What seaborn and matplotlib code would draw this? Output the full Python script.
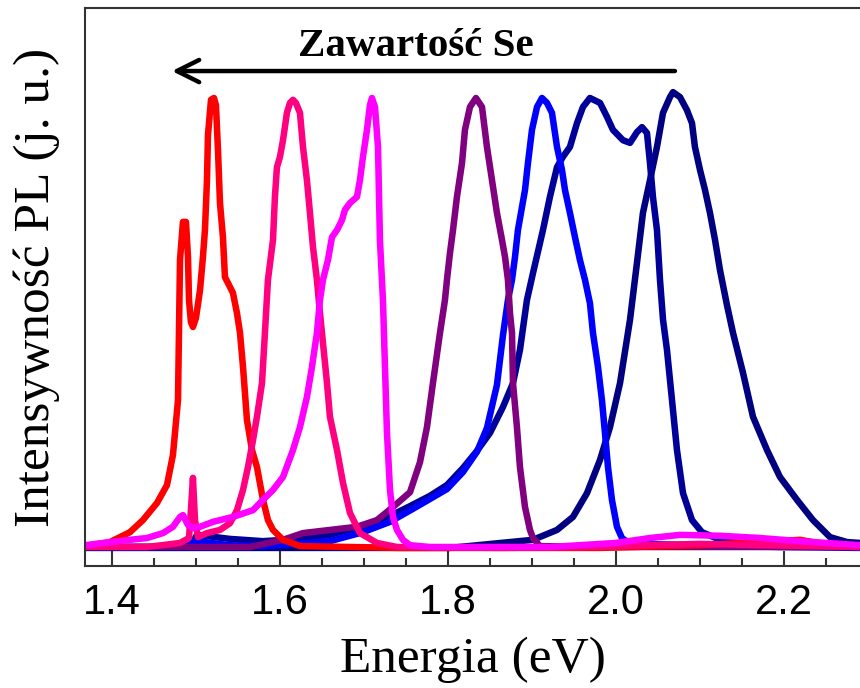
import matplotlib
matplotlib.use("Agg")
import matplotlib.pyplot as plt
from matplotlib.ticker import MultipleLocator, FormatStrFormatter
import numpy as np
import pandas as pd
import seaborn as sns

# PL spectra of the alloy series (energy in eV, normalised intensity)
red_e = [1.3679, 1.3976, 1.4214, 1.4369, 1.4536, 1.4655, 1.4726, 1.4786, 1.4798, 1.4810,
         1.4845, 1.4881, 1.4905, 1.4917, 1.4940, 1.4964, 1.5000, 1.5048, 1.5083, 1.5107,
         1.5131, 1.5143, 1.5179, 1.5214, 1.5238, 1.5262, 1.5286, 1.5321, 1.5345, 1.5405,
         1.5440, 1.5488, 1.5524, 1.5560, 1.5607, 1.5667, 1.5726, 1.5798, 1.5857, 1.5917,
         1.6036, 1.6238, 1.7429, 1.9810, 2.1000, 2.1714, 2.2190, 2.2548, 2.2905]
red_i = [0.002, 0.011, 0.033, 0.060, 0.098, 0.138, 0.205, 0.327, 0.483, 0.639,
         0.724, 0.724, 0.646, 0.550, 0.501, 0.490, 0.510, 0.572, 0.646, 0.706,
         0.817, 0.918, 0.996, 1.000, 0.984, 0.884, 0.766, 0.690, 0.601, 0.579,
         0.566, 0.521, 0.477, 0.401, 0.283, 0.216, 0.178, 0.105, 0.060, 0.038,
         0.016, 0.002, -0.002, -0.002, 0.004, 0.011, 0.016, 0.004, 0.000]

rose_e = [1.3679, 1.4417, 1.4810, 1.4917, 1.4940, 1.4964, 1.4988, 1.5024, 1.5131, 1.5286,
          1.5405, 1.5488, 1.5560, 1.5619, 1.5679, 1.5726, 1.5786, 1.5821, 1.5857, 1.5917,
          1.5940, 1.5964, 1.6000, 1.6036, 1.6083, 1.6119, 1.6155, 1.6190, 1.6238, 1.6274,
          1.6321, 1.6357, 1.6393, 1.6440, 1.6476, 1.6560, 1.6595, 1.6679, 1.6750, 1.6833,
          1.6952, 1.7155, 1.7393, 1.8619, 1.9810, 2.0405, 2.1000, 2.1714, 2.2905]
rose_i = [0.000, 0.000, 0.009, 0.020, 0.082, 0.154, 0.060, 0.022, 0.031, 0.038,
          0.053, 0.082, 0.127, 0.178, 0.238, 0.290, 0.365, 0.477, 0.595, 0.684,
          0.780, 0.846, 0.869, 0.906, 0.967, 0.989, 0.996, 0.989, 0.967, 0.891,
          0.817, 0.744, 0.668, 0.595, 0.521, 0.365, 0.290, 0.216, 0.143, 0.076,
          0.031, 0.009, 0.000, -0.002, 0.000, 0.004, 0.007, 0.004, 0.000]

magenta_e = [1.3679, 1.4214, 1.4417, 1.4607, 1.4726, 1.4810, 1.4845, 1.4905, 1.4964, 1.5048,
             1.5202, 1.5440, 1.5679, 1.5798, 1.5917, 1.6036, 1.6155, 1.6238, 1.6321, 1.6381,
             1.6440, 1.6476, 1.6512, 1.6571, 1.6619, 1.6679, 1.6738, 1.6774, 1.6833, 1.6917,
             1.6952, 1.6988, 1.7036, 1.7071, 1.7095, 1.7131, 1.7167, 1.7190, 1.7226, 1.7250,
             1.7274, 1.7310, 1.7345, 1.7393, 1.7464, 1.7548, 1.7786, 1.9214, 2.0000, 2.0405,
             2.0762, 2.1238, 2.1714, 2.2190, 2.2905]
magenta_i = [0.004, 0.016, 0.020, 0.031, 0.045, 0.067, 0.071, 0.049, 0.042, 0.045,
             0.056, 0.067, 0.082, 0.105, 0.127, 0.156, 0.216, 0.267, 0.334, 0.401,
             0.477, 0.550, 0.595, 0.639, 0.690, 0.706, 0.728, 0.751, 0.766, 0.780,
             0.817, 0.869, 0.929, 0.984, 1.000, 0.980, 0.891, 0.684, 0.550, 0.401,
             0.254, 0.127, 0.067, 0.038, 0.016, 0.004, 0.000, 0.000, 0.009, 0.020,
             0.027, 0.025, 0.020, 0.013, 0.004]

purple_e = [1.3679, 1.5643, 1.6036, 1.6274, 1.6595, 1.6917, 1.7155, 1.7345, 1.7548, 1.7667,
            1.7750, 1.7821, 1.7905, 1.7964, 1.7988, 1.8024, 1.8060, 1.8107, 1.8167, 1.8202,
            1.8262, 1.8333, 1.8405, 1.8464, 1.8524, 1.8583, 1.8643, 1.8679, 1.8714, 1.8738,
            1.8762, 1.8774, 1.8821, 1.8857, 1.8917, 1.8976, 1.9012, 1.9095, 1.9810, 2.1000,
            2.2905]
purple_i = [0.000, 0.000, 0.016, 0.031, 0.038, 0.045, 0.060, 0.089, 0.122, 0.189,
            0.267, 0.365, 0.477, 0.550, 0.595, 0.655, 0.706, 0.780, 0.855, 0.929,
            0.980, 1.000, 0.980, 0.891, 0.817, 0.744, 0.684, 0.646, 0.595, 0.521,
            0.477, 0.365, 0.267, 0.178, 0.089, 0.038, 0.020, 0.002, 0.000, 0.000,
            0.000]

blue_e = [1.3679, 1.4810, 1.5012, 1.5405, 1.5798, 1.6202, 1.6595, 1.6988, 1.7310, 1.7583,
          1.7786, 1.7988, 1.8179, 1.8345, 1.8464, 1.8583, 1.8655, 1.8714, 1.8762, 1.8798,
          1.8833, 1.8881, 1.8917, 1.8952, 1.9000, 1.9060, 1.9119, 1.9179, 1.9238, 1.9298,
          1.9357, 1.9393, 1.9452, 1.9512, 1.9571, 1.9631, 1.9690, 1.9726, 1.9786, 1.9833,
          1.9869, 1.9905, 1.9952, 2.0012, 2.0071, 2.0167, 2.1000, 2.1952, 2.2905]
blue_i = [0.000, 0.000, 0.013, 0.004, 0.002, 0.007, 0.013, 0.033, 0.056, 0.085,
          0.107, 0.129, 0.167, 0.212, 0.265, 0.361, 0.472, 0.550, 0.595, 0.646,
          0.706, 0.757, 0.795, 0.855, 0.929, 0.980, 1.000, 0.989, 0.967, 0.891,
          0.840, 0.795, 0.744, 0.690, 0.639, 0.595, 0.543, 0.477, 0.401, 0.327,
          0.254, 0.178, 0.105, 0.045, 0.020, 0.007, 0.004, 0.000, -0.002]

navy_e = [1.3679, 1.4929, 1.5012, 1.5405, 1.5798, 1.6238, 1.6595, 1.6988, 1.7310, 1.7548,
          1.7786, 1.7988, 1.8179, 1.8345, 1.8500, 1.8655, 1.8774, 1.8857, 1.8940, 1.9012,
          1.9131, 1.9214, 1.9298, 1.9369, 1.9452, 1.9536, 1.9607, 1.9690, 1.9810, 1.9893,
          1.9964, 2.0083, 2.0167, 2.0250, 2.0310, 2.0369, 2.0405, 2.0440, 2.0488, 2.0524,
          2.0560, 2.0607, 2.0667, 2.0726, 2.0798, 2.0905, 2.1024, 2.1238, 2.1714, 2.2190,
          2.2905]
navy_i = [0.000, 0.000, 0.027, 0.018, 0.013, 0.018, 0.027, 0.047, 0.069, 0.091,
          0.114, 0.138, 0.176, 0.214, 0.254, 0.312, 0.365, 0.439, 0.550, 0.610,
          0.706, 0.780, 0.846, 0.869, 0.891, 0.944, 0.980, 1.000, 0.989, 0.958,
          0.929, 0.906, 0.900, 0.924, 0.935, 0.922, 0.855, 0.780, 0.706, 0.595,
          0.506, 0.439, 0.327, 0.216, 0.120, 0.060, 0.033, 0.016, 0.009, 0.002,
          0.000]

dark_e = [1.3679, 1.8024, 1.9012, 1.9298, 1.9488, 1.9655, 1.9810, 1.9929, 2.0048, 2.0167,
          2.0250, 2.0321, 2.0405, 2.0488, 2.0560, 2.0643, 2.0679, 2.0762, 2.0845, 2.0905,
          2.0940, 2.1000, 2.1060, 2.1119, 2.1179, 2.1238, 2.1321, 2.1393, 2.1512, 2.1631,
          2.1798, 2.1952, 2.2155, 2.2345, 2.2548, 2.2750, 2.2905]
dark_i = [-0.002, -0.002, 0.016, 0.038, 0.067, 0.120, 0.194, 0.267, 0.365, 0.506,
          0.633, 0.744, 0.817, 0.891, 0.967, 1.002, 1.013, 1.002, 0.973, 0.944,
          0.891, 0.840, 0.795, 0.744, 0.684, 0.617, 0.539, 0.477, 0.388, 0.290,
          0.216, 0.156, 0.105, 0.060, 0.022, 0.011, 0.009]

xticks = [1.4, 1.6, 1.8, 2.0, 2.2]

spectra = {
    "E7": (dark_e, dark_i, "#000080"),
    "E6": (navy_e, navy_i, "#000099"),
    "E5": (blue_e, blue_i, "#0000FF"),
    "E4": (purple_e, purple_i, "#800080"),
    "E1": (red_e, red_i, "#FF0000"),
    "E2": (rose_e, rose_i, "#FF0080"),
    "E3": (magenta_e, magenta_i, "#FF00FF"),
}

frames = []
for name, (e, i, _) in spectra.items():
    frames.append(pd.DataFrame({"energia": e, "pl": i, "probka": name}))
df = pd.concat(frames, ignore_index=True)
palette = {name: c for name, (_, _, c) in spectra.items()}
order = list(spectra.keys())

sns.set_theme(style="white")
plt.rcParams["font.family"] = ["Liberation Sans", "DejaVu Sans"]

fig = plt.figure(figsize=(8.6, 6.88), dpi=100)
ax = fig.add_axes([85 / 860, 122 / 688, 775 / 860, 558 / 688])

sns.lineplot(data=df, x="energia", y="pl", hue="probka", hue_order=order,
             palette=palette, sort=False, estimator=None, linewidth=4.7,
             legend=False, ax=ax)

ax.set_xlim(1.3679, 2.2905)
ax.set_ylim(-0.0423, 1.2004)
ax.set_yticks([])
ax.set_xticks(xticks)
ax.xaxis.set_major_formatter(FormatStrFormatter("%.1f"))
ax.xaxis.set_minor_locator(MultipleLocator(0.05))
ax.tick_params(axis="x", which="major", direction="in", length=11, width=1.5,
               color="#333333", labelsize=30, pad=12, labelcolor="black",
               bottom=True, top=False)
ax.tick_params(axis="x", which="minor", direction="in", length=6, width=1.5,
               color="#333333", bottom=True, top=False)

for side in ["left", "top", "bottom"]:
    ax.spines[side].set_color("#333333")
    ax.spines[side].set_linewidth(1.5)
ax.spines["right"].set_visible(False)

serif = ["Liberation Serif", "DejaVu Serif"]
ax.set_xlabel("Energia (eV)", fontsize=37, family=serif, color="black", labelpad=10)
ax.set_ylabel("Intensywność PL (j. u.)", fontsize=37, family=serif, color="black")
ax.yaxis.set_label_coords(-0.032, 0.5)

ax.annotate("", xy=(1.4714, 1.060), xytext=(2.0702, 1.060),
            arrowprops=dict(arrowstyle="->, head_length=0.8, head_width=0.4",
                            lw=3.2, color="black", mutation_scale=20,
                            shrinkA=0, shrinkB=0))
ax.text(1.7619, 1.1136, "Zawartość Se", ha="center", va="center",
        fontsize=29.5, fontweight="bold", family=serif, color="black")

fig.savefig("out.png", dpi=100)
